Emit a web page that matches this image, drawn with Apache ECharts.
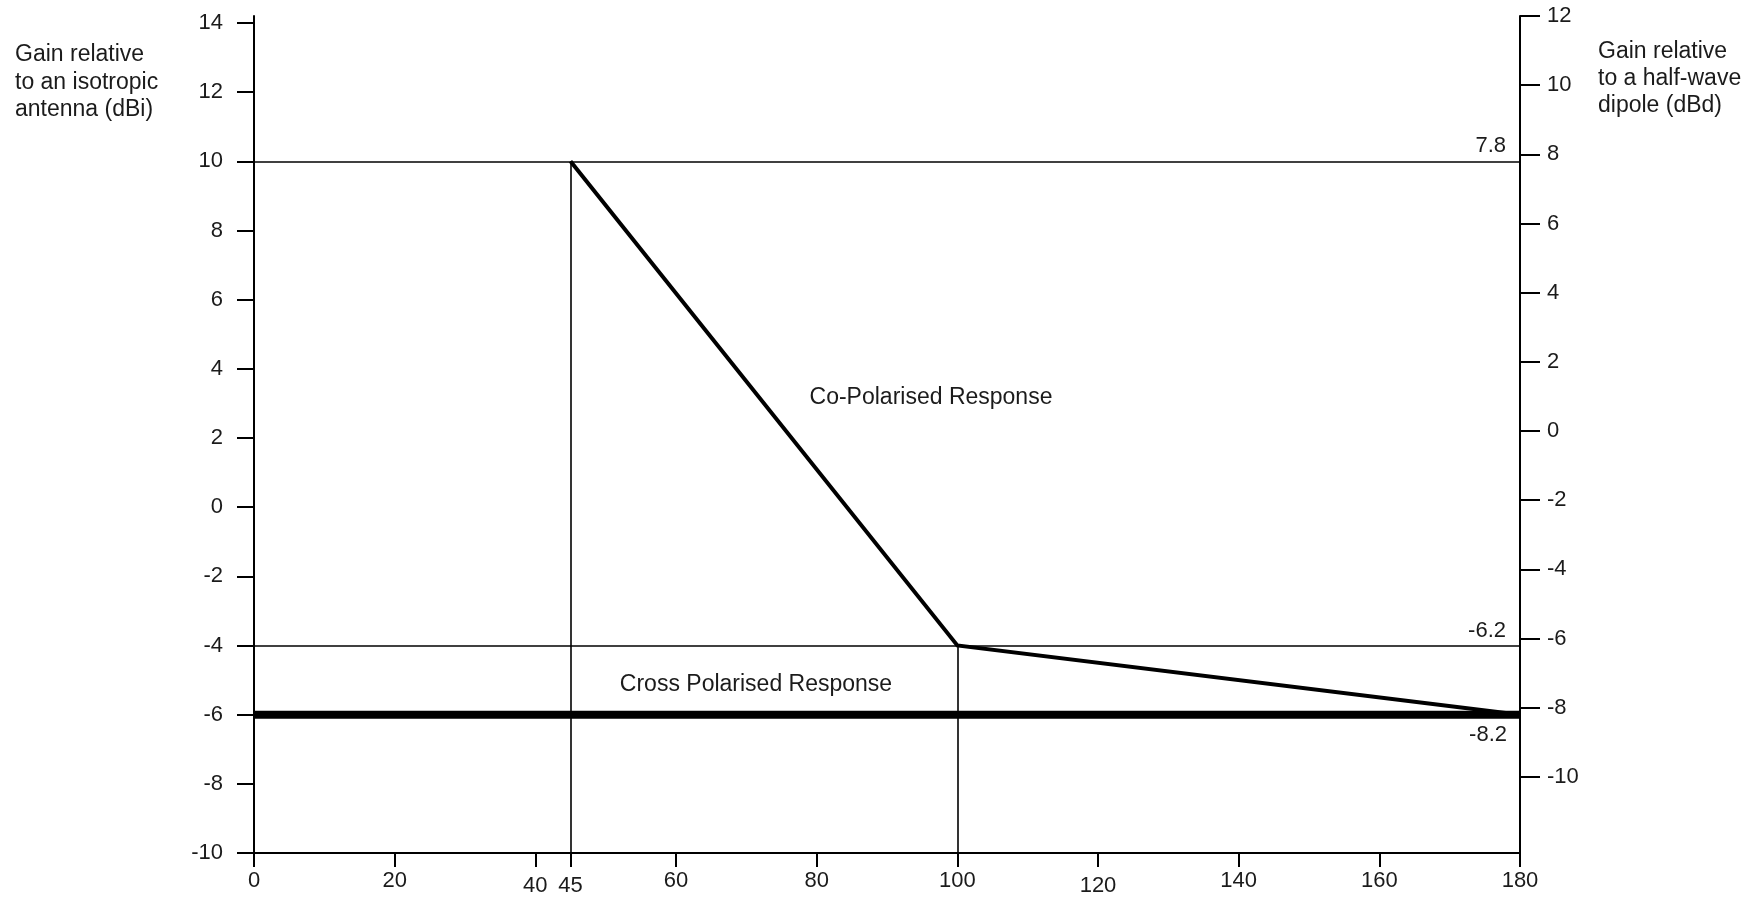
<!DOCTYPE html>
<html><head><meta charset="utf-8">
<script src="https://cdn.jsdelivr.net/npm/echarts@6/dist/echarts.min.js"></script>
<style>html,body{margin:0;padding:0;background:#fff}#c{width:1757px;height:897px}</style>
</head><body><div id="c"></div>
<script>
// ---- data ----
const coPolAngles = [45, 100, 180];
const coPolGain = [10, -4, -6];
const crossPolAngles = [0, 180];
const crossPolGain = [-6, -6];
const refLevelsDbi = [10, -4];
const refLevelsDbd = ['7.8', '-6.2'];
const crossLevelDbd = '-8.2';
const dropAngles = [45, 100];
const dropTopGain = [10, -4];
const xTicks = [0, 20, 40, 45, 60, 80, 100, 120, 140, 160, 180];
const yTicksDbi = [-10, -8, -6, -4, -2, 0, 2, 4, 6, 8, 10, 12, 14];
const yTicksDbd = [-10, -8, -6, -4, -2, 0, 2, 4, 6, 8, 10, 12];
const dbdOffset = 2.2;
const xMin = 0, xMax = 180;
const yMinDbi = -10, yMaxDbi = 14.2;

const FONT = 'Liberation Sans, Arial, sans-serif';
const TXT = '#1b1b1b';

const chart = echarts.init(document.getElementById('c'), null, {renderer: 'canvas'});

const coPolData = coPolAngles.map((a, i) => [a, coPolGain[i]]);
const crossData = crossPolAngles.map((a, i) => [a, crossPolGain[i]]);

const guideLines = [];
refLevelsDbi.forEach((v, i) => {
  guideLines.push({
    yAxis: v,
    label: {show: true, formatter: refLevelsDbd[i], position: 'insideEndTop', distance: [14, 4],
            fontSize: 22, fontFamily: FONT, color: TXT}
  });
});
dropAngles.forEach((a, i) => {
  guideLines.push([{coord: [a, yMinDbi]}, {coord: [a, dropTopGain[i]]}]);
});

const lowered = {40: 1, 45: 1, 120: 1};

const option = {
  animation: false,
  backgroundColor: '#fff',
  grid: {left: 254, right: 237, top: 16, bottom: 44, containLabel: false},
  xAxis: {
    type: 'value', min: xMin, max: xMax,
    splitLine: {show: false},
    axisLine: {show: true, onZero: false, lineStyle: {color: '#000', width: 2}},
    axisTick: {show: true, customValues: xTicks, length: 14, lineStyle: {color: '#000', width: 2}},
    axisLabel: {show: true, customValues: xTicks, margin: 17, fontSize: 22, fontFamily: FONT, color: TXT,
      formatter: v => lowered[v] ? '{low|' + v + '}' : String(v),
      rich: {low: {fontSize: 22, fontFamily: FONT, color: TXT, padding: [5, 0, 0, 0]}}}
  },
  yAxis: [
    {
      type: 'value', position: 'left', min: yMinDbi, max: yMaxDbi,
      splitLine: {show: false},
      axisLine: {show: true, onZero: false, lineStyle: {color: '#000', width: 2}},
      axisTick: {show: true, customValues: yTicksDbi, length: 17, lineStyle: {color: '#000', width: 2}},
      axisLabel: {show: true, customValues: yTicksDbi, margin: 31, fontSize: 22, fontFamily: FONT, color: TXT}
    },
    {
      type: 'value', position: 'right', min: yMinDbi - dbdOffset, max: yMaxDbi - dbdOffset,
      splitLine: {show: false},
      axisLine: {show: true, onZero: false, lineStyle: {color: '#000', width: 2}},
      axisTick: {show: true, customValues: yTicksDbd, length: 20, lineStyle: {color: '#000', width: 2}},
      axisLabel: {show: true, customValues: yTicksDbd, margin: 27, fontSize: 22, fontFamily: FONT, color: TXT}
    }
  ],
  series: [
    {
      name: 'guides', type: 'line', data: [], silent: true,
      markLine: {
        silent: true, symbol: ['none', 'none'], animation: false,
        lineStyle: {color: '#000', width: 1.6, type: 'solid'},
        label: {show: false},
        emphasis: {disabled: true},
        data: guideLines
      }
    },
    {
      name: 'Cross Polarised Response', type: 'line', data: crossData, showSymbol: false, silent: true,
      lineStyle: {color: '#000', width: 8, cap: 'butt'}
    },
    {
      name: 'crossLabel', type: 'line', data: [], silent: true,
      markLine: {
        silent: true, symbol: ['none', 'none'], animation: false,
        lineStyle: {color: 'rgba(0,0,0,0)', width: 1, type: 'solid'},
        emphasis: {disabled: true},
        data: [{yAxis: crossPolGain[1], label: {show: true, formatter: crossLevelDbd, position: 'insideEndBottom',
                distance: [13, 9], fontSize: 22, fontFamily: FONT, color: TXT}}]
      }
    },
    {
      name: 'Co-Polarised Response', type: 'line', data: coPolData, showSymbol: false, silent: true,
      lineStyle: {color: '#000', width: 4, join: 'miter'}
    }
  ],
  graphic: [
    {type: 'text', left: 15, top: 41, silent: true,
     style: {text: 'Gain relative\nto an isotropic\nantenna (dBi)', font: '23px ' + FONT, fill: TXT, lineHeight: 27.5}},
    {type: 'text', left: 1598, top: 38, silent: true,
     style: {text: 'Gain relative\nto a half-wave\ndipole (dBd)', font: '23px ' + FONT, fill: TXT, lineHeight: 27}},
    {type: 'text', x: 931, y: 398, silent: true,
     style: {text: 'Co-Polarised Response', font: '23px ' + FONT, fill: TXT, align: 'center', verticalAlign: 'middle'}},
    {type: 'text', x: 756, y: 685, silent: true,
     style: {text: 'Cross Polarised Response', font: '23px ' + FONT, fill: TXT, align: 'center', verticalAlign: 'middle'}}
  ]
};
chart.setOption(option);
</script>
</body></html>
